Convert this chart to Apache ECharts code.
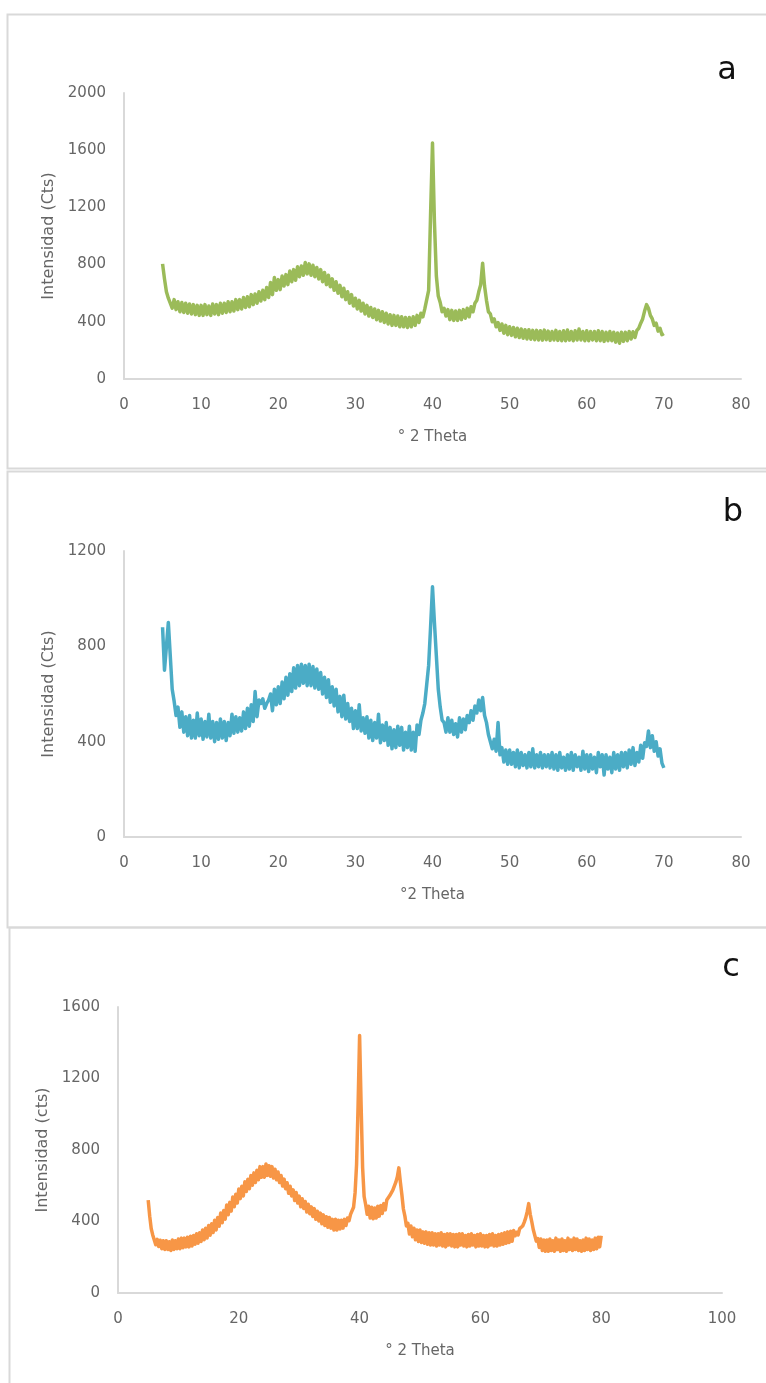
<!DOCTYPE html>
<html>
<head>
<meta charset="utf-8">
<script src="https://cdn.jsdelivr.net/npm/echarts@6/dist/echarts.min.js"></script>
<style>
  html, body { margin: 0; padding: 0; background: #fff; }
  #chart { width: 766px; height: 1383px; }
</style>
</head>
<body>
<div id="chart"></div>
<script>
// Diffractograms sampled every 0.25 ° 2θ, starting at 5 °.
const thetaStart = 5;
const thetaStep = 0.25;

// Sample a (5–70 °), intensity in counts; one row per degree
const intensityA = [
  805, 700, 610, 565,
  555, 495, 555, 485,
  540, 470, 535, 465,
  530, 460, 525, 455,
  520, 450, 515, 445,
  515, 445, 520, 450,
  510, 445, 525, 455,
  520, 450, 530, 460,
  530, 465, 540, 470,
  540, 475, 555, 485,
  555, 490, 570, 500,
  575, 505, 590, 520,
  595, 530, 610, 545,
  620, 555, 640, 570,
  675, 590, 710, 620,
  695, 625, 720, 650,
  730, 660, 755, 680,
  765, 690, 785, 715,
  790, 725, 815, 735,
  805, 725, 795, 715,
  780, 700, 765, 680,
  745, 660, 725, 645,
  700, 620, 680, 600,
  655, 575, 635, 555,
  610, 530, 590, 510,
  565, 490, 550, 475,
  530, 455, 515, 440,
  500, 430, 490, 415,
  480, 405, 470, 395,
  460, 385, 450, 375,
  445, 375, 440, 365,
  435, 365, 430, 360,
  430, 365, 435, 375,
  445, 395, 460, 435,
  490, 500, 620, 1150,
  1650, 1100, 720, 580,
  535, 470, 495, 440,
  485, 415, 480, 410,
  475, 410, 480, 415,
  485, 425, 495, 435,
  505, 470, 530, 550,
  610, 660, 810, 650,
  550, 470, 455, 400,
  420, 365, 395, 340,
  385, 320, 375, 310,
  365, 305, 360, 295,
  355, 290, 350, 285,
  345, 280, 345, 278,
  340, 275, 340, 273,
  338, 272, 342, 275,
  335, 270, 332, 273,
  340, 270, 332, 268,
  337, 268, 342, 272,
  332, 268, 337, 273,
  350, 273, 332, 268,
  337, 268, 332, 273,
  332, 268, 337, 268,
  332, 263, 327, 268,
  332, 268, 327, 258,
  322, 250, 327, 263,
  327, 268, 332, 280,
  330, 290, 340, 355,
  390, 420, 475, 520,
  495, 445, 420, 375,
  390, 335, 355, 310,
  318
];

// Sample b (5–70 °)
const intensityB = [
  880, 700, 800, 900,
  760, 620, 570, 510,
  545, 460, 525, 440,
  505, 425, 510, 415,
  490, 415, 520, 425,
  495, 410, 485, 420,
  515, 415, 485, 400,
  480, 410, 495, 415,
  485, 405, 480, 425,
  515, 435, 505, 440,
  500, 445, 525, 455,
  540, 465, 555, 485,
  610, 505, 575, 560,
  580, 540, 560, 575,
  600, 530, 620, 555,
  630, 560, 650, 580,
  670, 595, 685, 610,
  710, 625, 720, 635,
  725, 645, 720, 635,
  725, 635, 715, 625,
  705, 620, 690, 600,
  670, 585, 660, 565,
  630, 550, 620, 525,
  590, 505, 595, 495,
  560, 485, 540, 455,
  530, 455, 555, 445,
  500, 435, 505, 415,
  490, 405, 480, 415,
  515, 395, 470, 405,
  480, 385, 460, 370,
  450, 375, 465, 385,
  460, 365, 440, 375,
  465, 365, 440, 360,
  470, 430, 490, 520,
  560, 640, 720, 880,
  1050, 900, 760, 620,
  545, 490, 480, 440,
  500, 440, 490, 430,
  475, 420, 500, 440,
  495, 450, 510, 480,
  530, 490, 550, 520,
  575, 530, 585, 510,
  480, 430, 425, 370,
  410, 360, 480, 345,
  375, 315, 365, 305,
  365, 305, 355, 295,
  365, 290, 355, 300,
  345, 290, 355, 295,
  370, 290, 345, 295,
  355, 290, 345, 295,
  345, 290, 355, 285,
  345, 280, 355, 290,
  335, 280, 345, 285,
  355, 280, 345, 295,
  335, 280, 360, 285,
  345, 275, 345, 285,
  335, 270, 355, 295,
  345, 260, 345, 285,
  335, 270, 355, 285,
  345, 280, 355, 295,
  355, 290, 365, 305,
  375, 300, 355, 315,
  385, 330, 395, 380,
  445, 375, 425, 360,
  400, 340, 370, 310,
  290
];

// Sample c (5–80 °)
const intensityC = [
  520, 430, 360, 325,
  320, 270, 300, 260,
  295, 248, 292, 243,
  292, 243, 287, 238,
  297, 243, 292, 248,
  302, 248, 307, 253,
  307, 258, 312, 258,
  317, 263, 322, 273,
  332, 278, 337, 288,
  352, 298, 362, 308,
  377, 323, 387, 338,
  407, 353, 422, 373,
  447, 393, 462, 413,
  492, 438, 507, 458,
  537, 483, 552, 503,
  582, 528, 597, 543,
  622, 568, 637, 583,
  657, 603, 672, 618,
  687, 633, 707, 648,
  707, 648, 722, 658,
  712, 653, 707, 643,
  692, 633, 677, 618,
  657, 598, 637, 583,
  617, 558, 597, 543,
  577, 518, 562, 503,
  542, 483, 527, 473,
  512, 453, 497, 443,
  482, 428, 472, 413,
  457, 403, 447, 388,
  437, 378, 427, 368,
  422, 363, 412, 353,
  412, 353, 407, 358,
  407, 363, 412, 378,
  420, 405, 440, 440,
  480, 560, 720, 1050,
  1440, 1050, 700, 540,
  495, 440, 485, 420,
  480, 415, 475, 420,
  485, 430, 490, 445,
  500, 465, 520, 510,
  545, 540, 575, 580,
  620, 650, 700, 620,
  550, 470, 430, 375,
  390, 330, 375, 315,
  362, 298, 352, 288,
  352, 283, 342, 278,
  342, 273, 337, 268,
  337, 268, 332, 263,
  332, 268, 337, 263,
  327, 258, 332, 268,
  332, 263, 327, 258,
  327, 258, 332, 268,
  332, 263, 322, 258,
  327, 263, 332, 268,
  322, 258, 327, 263,
  332, 263, 322, 258,
  322, 258, 327, 268,
  332, 263, 322, 263,
  327, 268, 332, 273,
  337, 278, 342, 283,
  345, 290, 350, 320,
  340, 325, 360, 370,
  375, 395, 420, 455,
  500, 440, 400, 355,
  345, 290, 305, 255,
  302, 238, 297, 233,
  297, 233, 302, 238,
  292, 233, 307, 243,
  297, 233, 302, 238,
  292, 233, 307, 243,
  297, 238, 307, 243,
  302, 238, 292, 233,
  297, 238, 307, 243,
  302, 238, 297, 243,
  307, 248, 312, 258,
  320
];

const panelLetters = ['a', 'b', 'c'];
const xTitles = ['° 2 Theta', '°2 Theta', '° 2 Theta'];
const yTitles = ['Intensidad (Cts)', 'Intensidad (Cts)', 'Intensidad (cts)'];
const xMax = [80, 80, 100];
const xInterval = [10, 10, 20];
const yMax = [2000, 1200, 1600];
const yInterval = [400, 400, 400];
const colors = ['#9BBB59', '#4BACC6', '#F79646'];
const traceWidths = [3.5, 3.5, 3.5];

const toPairs = vals => vals.map((v, i) => [thetaStart + i * thetaStep, v]);
const seriesData = [intensityA, intensityB, intensityC].map(toPairs);

const grids = [
  { left: 124, top: 93, width: 617, height: 286 },
  { left: 124, top: 551, width: 617, height: 286 },
  { left: 118, top: 1007, width: 604, height: 286 }
];

const textColor = '#666666';
const axisColor = '#D9D9D9';
const fontFamily = 'DejaVu Sans, Verdana, sans-serif';

const chart = echarts.init(document.getElementById('chart'), null, { renderer: 'canvas' });

chart.setOption({
  animation: false,
  backgroundColor: '#ffffff',
  grid: grids,
  xAxis: grids.map((g, i) => ({
    type: 'value',
    gridIndex: i,
    min: 0,
    max: xMax[i],
    interval: xInterval[i],
    name: xTitles[i],
    nameLocation: 'middle',
    nameGap: 51,
    nameTextStyle: { color: textColor, fontSize: 15, fontFamily },
    axisLine: { show: true, lineStyle: { color: axisColor, width: 2 } },
    axisTick: { show: false },
    splitLine: { show: false },
    axisLabel: { color: textColor, fontSize: 15, margin: 19, fontFamily, formatter: v => String(v) }
  })),
  yAxis: grids.map((g, i) => ({
    type: 'value',
    gridIndex: i,
    min: 0,
    max: yMax[i],
    interval: yInterval[i],
    name: yTitles[i],
    nameLocation: 'middle',
    nameGap: i === 2 ? 65 : 66,
    nameTextStyle: { color: textColor, fontSize: 16, fontFamily },
    axisLine: { show: true, lineStyle: { color: axisColor, width: 2 } },
    axisTick: { show: false },
    splitLine: { show: false },
    axisLabel: { color: textColor, fontSize: 15, margin: 18, fontFamily, formatter: v => String(v) }
  })),
  series: seriesData.map((d, i) => ({
    type: 'line',
    xAxisIndex: i,
    yAxisIndex: i,
    data: d,
    showSymbol: false,
    smooth: false,
    lineStyle: { color: colors[i], width: traceWidths[i], join: 'round' },
    itemStyle: { color: colors[i] }
  })),
  graphic: [
    { type: 'rect', shape: { x: 7.5, y: 14.5, width: 770, height: 454 }, style: { fill: 'none', stroke: '#D9D9D9', lineWidth: 2 }, silent: true },
    { type: 'rect', shape: { x: 7.5, y: 471.5, width: 770, height: 456 }, style: { fill: 'none', stroke: '#D9D9D9', lineWidth: 2 }, silent: true },
    { type: 'rect', shape: { x: 9.5, y: 927.5, width: 770, height: 470 }, style: { fill: 'none', stroke: '#D9D9D9', lineWidth: 2 }, silent: true },
    { type: 'text', style: { x: 727, y: 71, text: panelLetters[0], fill: '#111', fontSize: 32, fontFamily, align: 'center', verticalAlign: 'middle' } },
    { type: 'text', style: { x: 733, y: 513, text: panelLetters[1], fill: '#111', fontSize: 32, fontFamily, align: 'center', verticalAlign: 'middle' } },
    { type: 'text', style: { x: 731, y: 968, text: panelLetters[2], fill: '#111', fontSize: 32, fontFamily, align: 'center', verticalAlign: 'middle' } }
  ]
});
</script>
</body>
</html>
